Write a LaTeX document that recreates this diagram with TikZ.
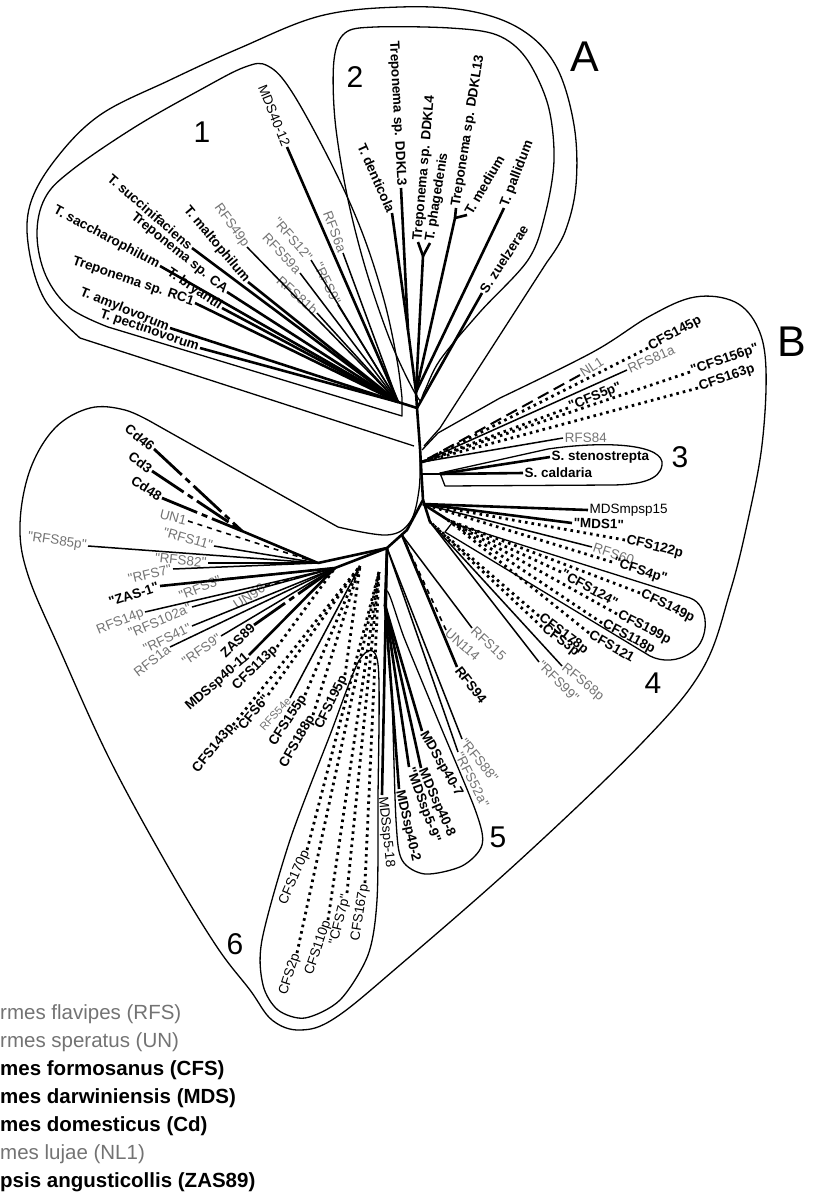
\documentclass[tikz,border=0pt]{standalone}
\usepackage{fontspec}
\setmainfont{Liberation Sans}[Ligatures=TeXOff]
\begin{document}
\begin{tikzpicture}[x=1pt,y=-1pt,
  lab/.style={font=\fontsize{13.5}{15}\selectfont, inner sep=1.5pt},
  bl/.style={lab, font=\fontsize{13.5}{15}\selectfont\bfseries},
  gl/.style={lab, text=black!55},
  nl/.style={lab},
  big/.style={font=\fontsize{30}{32}\selectfont, inner sep=0pt},
  huge/.style={font=\fontsize{43}{45}\selectfont, inner sep=0pt},
  leg/.style={font=\fontsize{20.5}{22}\selectfont, anchor=west, inner sep=0pt},
  legb/.style={leg, font=\fontsize{20.5}{22}\selectfont\bfseries},
  br/.style={line width=2.6pt},
  rf/.style={line width=1.5pt},
  cf/.style={line width=2.8pt, dash pattern=on 2.6pt off 4pt},
  cd/.style={line width=2.8pt, dash pattern=on 38pt off 5pt on 6pt off 5pt},
  un/.style={line width=1.6pt, dash pattern=on 5pt off 5pt},
  nlone/.style={line width=2pt, dash pattern=on 12pt off 6pt},
  bnd/.style={line width=1.3pt, line join=round},
]
\useasboundingbox (0,0) rectangle (818,1203);

% ---------- hubs ----------
\coordinate (T1) at (417,408);
\coordinate (T2) at (420,448);
\coordinate (T3) at (423,500);
\coordinate (T4) at (407,530);
\coordinate (T5) at (387,548);
\coordinate (T6) at (318,563);
\coordinate (H1) at (398,402);
\coordinate (H2) at (416,392);
\coordinate (H2a) at (408,330);
\coordinate (H2b) at (423,256);
\coordinate (H2c) at (455,218);
\coordinate (HR) at (422,462);
\coordinate (H3) at (440,474);
\coordinate (H3s) at (422,474);
\coordinate (H4) at (423,504);
\coordinate (H4b) at (448,520);
\coordinate (H4c) at (430,522);
\coordinate (HLR) at (402,535);
\coordinate (H5) at (385,605);
\coordinate (H6b) at (379,572);
\coordinate (H6m) at (360,566);
\coordinate (H6l) at (335,568);
\coordinate (HCd) at (242,531);

% ---------- boundaries ----------
\draw[bnd] (414,446) -- (80,338) -- plot[smooth, tension=0.6] coordinates {(80,338) (45,300) (29,250) (30,205) (55,160) (100,115) (170,80) (240,48) (320,16) (400,7) (470,11) (522,30) (556,66) (574,125) (576,185) (565,232) (547,262)} -- (440,428) -- (424,446);
\draw[bnd] (402,416) -- (108,327) -- plot[smooth, tension=0.6] coordinates {(108,327) (70,308) (46,276) (37,235) (45,198) (72,170) (135,127) (200,90) (245,67) (268,66) (292,92) (332,165) (362,232) (384,300) (397,360) (402,398)} -- cycle;
\draw[bnd] plot[smooth cycle, tension=0.55] coordinates {(418,398) (392,345) (366,270) (347,195) (335,120) (334,60) (345,33) (375,27) (450,28) (497,35) (526,58) (548,105) (554,160) (545,215) (528,260) (480,312) (440,360) (424,392)};
\draw[bnd] (422,450) -- (438,433) -- (500,398) -- plot[smooth, tension=0.6] coordinates {(500,398) (593,352) (650,316) (695,297) (735,302) (758,328) (766,370) (762,445) (748,520) (730,592) (702,670) (640,745) (520,860) (400,965) (335,1018) (300,1030) (272,1020) (250,990) (217,947) (170,870) (110,760) (60,650) (28,575) (20,525) (30,470) (55,428) (90,408) (125,410) (155,424)} -- (338,527) -- plot[smooth, tension=0.6] coordinates {(338,527) (387,535) (410,522) (419,490) (420,455)};
\draw[bnd] (440,473) -- (548,449) .. controls (610,440) and (665,445) .. (662,465) .. controls (660,480) and (640,485) .. (610,485) -- (445,486) -- cycle;
\draw[bnd] (452,523) -- (690,598) .. controls (710,605) and (710,640) .. (692,652) .. controls (678,662) and (662,662) .. (650,656) -- (445,532) -- cycle;
\draw[bnd] plot[smooth cycle, tension=0.5] coordinates {(386,592) (392,700) (396,820) (402,860) (425,874) (462,866) (482,845) (476,812) (440,725) (405,640)};
\draw[bnd] plot[smooth cycle, tension=0.5] coordinates {(360,659) (378,664) (378,800) (377,900) (368,955) (340,1000) (305,1018) (278,1010) (263,985) (262,940) (290,840) (330,735)};

% ---------- big labels ----------
\node[huge] (labA) at (585,57) {A};
\node[huge] (labB) at (792,342) {B};
\node[big] (g1) at (202,132) {1};
\node[big] (g2) at (355,77) {2};
\node[big] (g3) at (680,457) {3};
\node[big] (g4) at (653,683) {4};
\node[big] (g5) at (498,837) {5};
\node[big] (g6) at (235,944) {6};

% ---------- trunk ----------
\draw[br, line join=round] (H1) -- (T1) -- (T2) -- (T3) -- (T4) -- (T5) -- (T6);
\draw[br] (H2) -- (T1);
\draw[br] (H3) -- (H3s);
\draw[br] (H4b) -- (H4);
\draw[br] (H4c) -- (T3);
\draw[br] (T5) -- (H5);
\draw[br] (H2a) -- (H2);
\draw[br] (H2b) -- (H2);
\draw[br] (H2c) -- (H2);
\draw[br] (HCd) -- (T6);

% ---------- group 1 ----------
\node[nl, anchor=east, rotate=-68] (mds4012) at (287,147) {MDS40-12};
\node[gl, anchor=east, rotate=-69] (rfs6a) at (343,253) {RFS6a};
\node[gl, anchor=east, rotate=-64] (rfs9a) at (338,305) {"RFS9"};
\node[gl, anchor=east, rotate=-49] (rfs12) at (311,260) {"RFS12"};
\node[gl, anchor=east, rotate=-47] (rfs59a) at (300,273) {RFS59a};
\node[gl, anchor=east, rotate=-42] (rfs81b) at (317,313) {RFS81b};
\node[gl, anchor=east, rotate=-54] (rfs49p) at (247,247) {RFS49p};
\node[bl, anchor=east, rotate=-50] (tmal) at (248,282) {T. maltophilum};
\node[bl, anchor=east, rotate=-41] (tsuc) at (192,248) {T. succinifaciens};
\node[bl, anchor=east, rotate=-39] (tca) at (227,292) {Treponema sp. CA};
\node[bl, anchor=east, rotate=-28] (tsac) at (160,266) {T. saccharophilum};
\node[bl, anchor=east, rotate=-34] (tbry) at (222,308) {T. bryantii};
\node[bl, anchor=east, rotate=-19] (trc1) at (195,303) {Treponema sp. RC1};
\node[bl, anchor=east, rotate=-22] (tamy) at (170,328) {T. amylovorum};
\node[bl, anchor=east, rotate=-19] (tpec) at (200,348) {T. pectinovorum};
\foreach \n/\s in {mds4012/br, rfs6a/rf, rfs9a/rf, rfs12/rf, rfs59a/rf, rfs81b/rf, rfs49p/rf, tmal/br, tsuc/br, tca/br, tsac/br, tbry/br, trc1/br, tamy/br, tpec/br}
  \draw[\s] (\n.east) -- (H1);

% ---------- group 2 ----------
\node[bl, anchor=east, rotate=-66] (tden) at (392,213) {T. denticola};
\node[bl, anchor=east, rotate=-87] (dd3) at (401,188) {Treponema sp. DDKL3};
\node[bl, anchor=west, rotate=85] (dd4) at (418,242) {Treponema sp. DDKL4};
\node[bl, anchor=west, rotate=81] (tpha) at (430,243) {T. phagedenis};
\node[bl, anchor=west, rotate=81] (dd13) at (456,208) {Treponema sp. DDKL13};
\node[bl, anchor=west, rotate=60] (tmed) at (467,215) {T. medium};
\node[bl, anchor=west, rotate=69] (tpal) at (504,208) {T. pallidum};
\node[bl, anchor=west, rotate=57] (szue) at (482,293) {S. zuelzerae};
\draw[br] (tden.east) -- (H2a);
\draw[br] (dd3.east) -- (H2a);
\draw[br] (dd4.west) -- (H2b);
\draw[br] (tpha.west) -- (H2b);
\draw[br] (dd13.west) -- (H2c);
\draw[br] (tmed.west) -- (H2c);
\draw[br] (tpal.west) -- (H2);
\draw[br] (szue.west) -- (T1);

% ---------- right group ----------
\node[gl, anchor=west, rotate=33] (nlone) at (580,375) {NL1};
\node[bl, anchor=west, rotate=28] (c145) at (648,348) {CFS145p};
\node[gl, anchor=west, rotate=24] (r81a) at (627,370) {RFS81a};
\node[bl, anchor=west, rotate=22] (c5) at (568,408) {"CFS5p"};
\node[bl, anchor=west, rotate=19] (c156) at (690,372) {"CFS156p"};
\node[bl, anchor=west, rotate=19] (c163) at (698,388) {CFS163p};
\node[gl, anchor=west, rotate=1] (r84) at (563,438) {RFS84};
\node[bl, anchor=west] (sste) at (550,457) {S. stenostrepta};
\node[bl, anchor=west] (scal) at (523,473) {S. caldaria};
\node[nl, anchor=west] (mdsm) at (588,510) {MDSmpsp15};
\node[bl, anchor=west, rotate=-2] (mds1) at (572,523) {"MDS1"};
\node[bl, anchor=west, rotate=-14] (c122) at (625,540) {CFS122p};
\node[gl, anchor=west, rotate=-18] (r60) at (592,547) {RFS60};
\node[bl, anchor=west, rotate=-18] (c4) at (612,562) {"CFS4p"};
\node[bl, anchor=west, rotate=-26] (c149) at (640,593) {CFS149p};
\node[bl, anchor=west, rotate=-29] (c124) at (561,572) {"CFS124"};
\node[bl, anchor=west, rotate=-27] (c199) at (617,614) {CFS199p};
\node[bl, anchor=west, rotate=-28] (c118) at (602,623) {CFS118p};
\node[bl, anchor=west, rotate=-30] (c121) at (589,633) {CFS121};
\node[bl, anchor=west, rotate=-37] (c178) at (539,616) {CFS178p};
\node[bl, anchor=west, rotate=-37] (c3) at (542,627) {CFS3p};
\node[gl, anchor=west, rotate=-39] (r68p) at (562,666) {RFS68p};
\node[gl, anchor=west, rotate=-45] (r99) at (539,662) {"RFS99"};
\node[gl, anchor=west, rotate=-43] (r15) at (472,628) {RFS15};
\node[gl, anchor=west, rotate=-42] (un114) at (446,630) {UN114};
\node[bl, anchor=west, rotate=-52] (r94) at (457,667) {RFS94};
\draw[nlone] (nlone.west) -- (HR);
\foreach \n/\s in {c145/cf, r81a/rf, c5/cf, c156/cf, c163/cf, r84/rf}
  \draw[\s] (\n.west) -- (HR);
\draw[br] (sste.west) -- (H3);
\draw[br] (scal.west) -- (H3);
\foreach \n/\s in {mdsm/br, mds1/br, c122/cf, r60/rf, c4/cf}
  \draw[\s] (\n.west) -- (H4);
\foreach \n/\s in {c149/cf, c124/cf, c199/cf, c118/cf, c121/cf}
  \draw[\s] (\n.west) -- (H4b);
\foreach \n/\s in {c178/cf, c3/cf, r68p/rf, r99/rf}
  \draw[\s] (\n.west) -- (H4c);
\draw[rf] (r15.west) -- (HLR);
\draw[un] (un114.west) -- (HLR);
\draw[br] (r94.west) -- (HLR);

% ---------- group 5 ----------
\node[gl, anchor=west, rotate=-51] (r88) at (462,739) {"RFS88"};
\node[gl, anchor=west, rotate=-63] (r52a) at (458,752) {"RFS52a"};
\node[bl, anchor=west, rotate=-60] (m407) at (422,731) {MDSsp40-7};
\node[bl, anchor=west, rotate=-66] (m408) at (421,768) {MDSsp40-8};
\node[bl, anchor=west, rotate=-70] (m59) at (409,767) {"MDSsp5-9"};
\node[bl, anchor=west, rotate=-77] (m402) at (399,789) {MDSsp40-2};
\node[nl, anchor=west, rotate=-84] (m518) at (382,795) {MDSsp5-18};
\draw[rf] (r88.west) -- (T5);
\draw[rf] (r52a.west) -- (T5);
\foreach \n in {m407, m408, m59, m402}
  \draw[br] (\n.west) -- (H5);
\draw[br] (m518.west) -- (T5);

% ---------- group 6 bottom ----------
\node[nl, anchor=east, rotate=66] (c170) at (307,850) {CFS170p};
\node[nl, anchor=east, rotate=72] (c2) at (297,953) {CFS2p};
\node[nl, anchor=east, rotate=71] (c110) at (328,920) {CFS110p};
\node[nl, anchor=east, rotate=76] (c7) at (347,893) {"CFS7p"};
\node[nl, anchor=east, rotate=81] (c167) at (365,883) {CFS167p};
\foreach \n in {c170, c2, c110, c7, c167}
  \draw[cf] (\n.east) -- (H6b);

% ---------- group 6 middle ----------
\node[bl, anchor=east, rotate=51] (c143) at (233,725) {CFS143p};
\node[bl, anchor=east, rotate=50] (c6) at (268,695) {"CFS6"};
\node[gl, anchor=east, rotate=48, font=\fontsize{11}{12}\selectfont] (r54e) at (290,698) {RFS54e};
\node[bl, anchor=east, rotate=57] (c155) at (305,695) {CFS155p};
\node[bl, anchor=east, rotate=60] (c188) at (313,715) {CFS188p};
\node[bl, anchor=east, rotate=64] (c195) at (345,675) {CFS195p};
\foreach \n/\s in {c143/cf, c6/cf, r54e/rf, c155/cf, c188/cf, c195/cf}
  \draw[\s] (\n.east) -- (H6m);

% ---------- group 6 left ----------
\node[bl, anchor=east, rotate=41] (m4011) at (249,655) {MDSsp40-11};
\node[bl, anchor=east, rotate=44] (c113) at (277,647) {CFS113p};
\node[bl, anchor=east, rotate=44] (zas89) at (254,625) {ZAS89};
\node[gl, anchor=east, rotate=35] (r9b) at (221,636) {"RFS9"};
\node[gl, anchor=east, rotate=38] (r1a) at (170,647) {RFS1a};
\node[gl, anchor=east, rotate=26] (r41) at (192,626) {"RFS41"};
\node[gl, anchor=east, rotate=23] (r102a) at (192,607) {"RFS102a"};
\node[gl, anchor=east, rotate=22] (r14p) at (145,612) {RFS14p};
\node[gl, anchor=east, rotate=33] (un96) at (265,586) {UN96};
\node[bl, anchor=east, rotate=18] (zas1) at (160,586) {"ZAS-1"};
\node[gl, anchor=east, rotate=22] (r3) at (222,579) {"RFS3"};
\node[gl, anchor=east, rotate=13] (r7) at (173,569) {"RFS7"};
\node[gl, anchor=east, rotate=-6] (r82) at (208,563) {"RFS82"};
\node[gl, anchor=east, rotate=-8] (r85p) at (88,546) {"RFS85p"};
\node[gl, anchor=east, rotate=-16] (r11) at (214,546) {"RFS11"};
\node[gl, anchor=east, rotate=-14] (un1) at (188,521) {UN1};
\node[bl, anchor=east, rotate=-32] (cd48) at (162,498) {Cd48};
\node[bl, anchor=east, rotate=-37] (cd3) at (152,471) {Cd3};
\node[bl, anchor=east, rotate=-39] (cd46) at (154,449) {Cd46};
\foreach \n/\s in {m4011/br, c113/cf, zas89/cd, r9b/rf, r1a/rf, r41/rf, r102a/rf, r14p/rf, un96/un, zas1/br, r3/rf}
  \draw[\s] (\n.east) -- (H6l);
\foreach \n/\s in {r7/rf, r82/rf, r85p/rf, r11/rf, un1/un}
  \draw[\s] (\n.east) -- (T6);
\foreach \n in {cd48, cd3, cd46}
  \draw[cd] (\n.east) -- (HCd);
\draw[br] (H6l) -- (T5);

% ---------- legend ----------
\node[leg, text=black!55] (l1) at (0,1014) {rmes flavipes (RFS)};
\node[leg, text=black!55] (l2) at (0,1042) {rmes speratus (UN)};
\node[legb] (l3) at (0,1070) {mes formosanus (CFS)};
\node[legb] (l4) at (0,1098) {mes darwiniensis (MDS)};
\node[legb] (l5) at (0,1126) {mes domesticus (Cd)};
\node[leg, text=black!55] (l6) at (0,1154) {mes lujae (NL1)};
\node[legb] (l7) at (0,1182) {psis angusticollis (ZAS89)};
\end{tikzpicture}
\end{document}
